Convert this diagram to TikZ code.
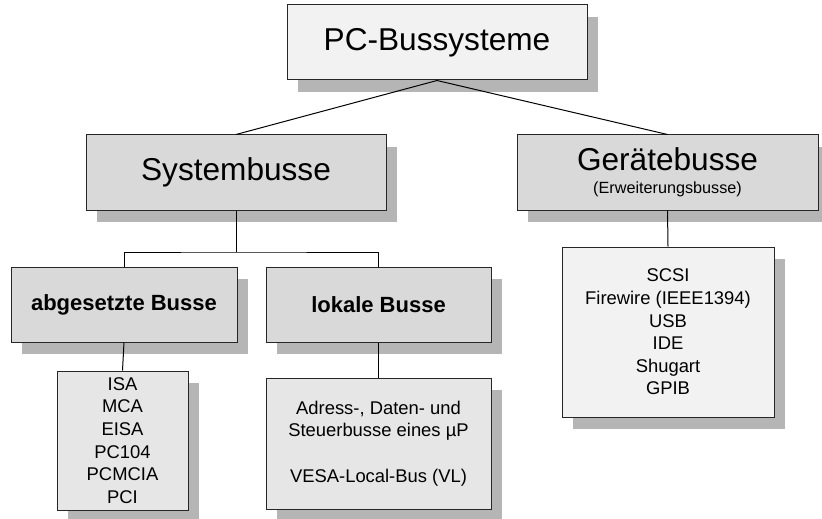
\documentclass[tikz,border=0pt]{standalone}
\usepackage{fontspec}
\setmainfont{Liberation Sans}
\usetikzlibrary{shapes,shadows}
\definecolor{shadowgray}{HTML}{B5B5B5}
\definecolor{headgray}{HTML}{D9D9D9}
\definecolor{listgray}{HTML}{E6E6E6}
\definecolor{palegray}{HTML}{F2F2F2}

\begin{document}
\begin{tikzpicture}[x=0.5pt, y=-0.5pt, line width=0.5pt,
box/.style={rectangle, draw=black!85, inner sep=0pt, align=center,
  drop shadow={shadow xshift=5.5pt, shadow yshift=-6pt, fill=shadowgray, opacity=1}},
head/.style={box, fill=headgray, font=\fontsize{15.8pt}{11.5pt}\selectfont},
sub/.style={box, fill=headgray, font=\bfseries\fontsize{11pt}{13pt}\selectfont},
leaflist/.style={box, fill=listgray, font=\fontsize{9.2pt}{11.3pt}\selectfont}]

\useasboundingbox (0,0) rectangle (822,518);

\node [box, fill=palegray, font=\fontsize{15.8pt}{19pt}\selectfont,
  minimum width=150pt, minimum height=37.5pt] (root) at (437,42.5) {PC-Bussysteme};

\node [head, minimum width=150pt, minimum height=37.5pt] (sys) at (236,172.5) {Systembusse};
\path (root.south) edge (sys.north);
\node [head, minimum width=150.5pt, minimum height=37.5pt] (geraet) at (667.5,172.5)
  {Gerätebusse\\{\fontsize{8.1pt}{9pt}\selectfont (Erweiterungsbusse)}};
\path (root.south) edge (geraet.north);

\node [sub, minimum width=113pt, minimum height=37.5pt] (abges) at (124,304.5) {abgesetzte Busse};
\node [sub, minimum width=112.5pt, minimum height=37.5pt] (lokal) at (378.5,304.5) {lokale Busse};
\coordinate (fork) at (236,252);
\draw (sys.south) -- (fork);
\draw (abges.north) |- (fork) -| (lokal.north);

\node [leaflist, minimum width=65.5pt, minimum height=69.5pt] (isa) at (122.5,440.5)
  {ISA\\MCA\\EISA\\PC104\\PCMCIA\\PCI};
\path (abges.south) edge (isa.north);
\node [leaflist, minimum width=112.5pt, minimum height=65.5pt] (vesa) at (378.5,443.5)
  {Adress-, Daten- und\\Steuerbusse eines µP\\[11.3pt]VESA-Local-Bus (VL)};
\path (lokal.south) edge (vesa.north);
\node [leaflist, fill=palegray, minimum width=106pt, minimum height=85pt] (ext) at (668,332)
  {SCSI\\Firewire (IEEE1394)\\USB\\IDE\\Shugart\\GPIB};
\path (geraet.south) edge (ext.north);
\end{tikzpicture}
\end{document}
